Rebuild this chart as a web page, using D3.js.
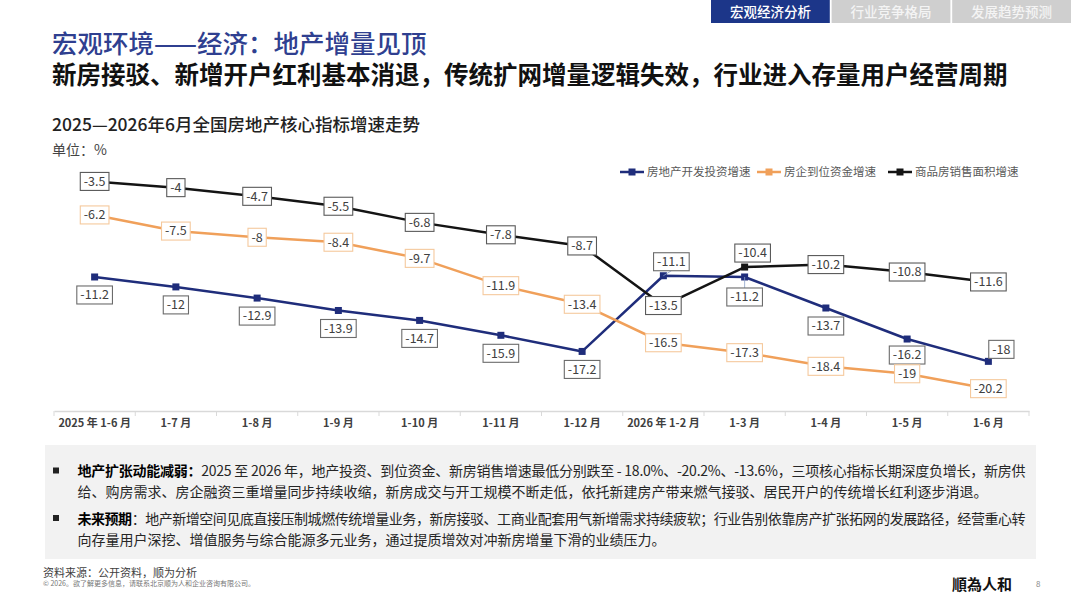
<!DOCTYPE html>
<html>
<head>
<meta charset="utf-8">
<script src="https://cdn.jsdelivr.net/npm/d3@7"></script>
<style>
  body {margin:0; background:#fff;}
  svg text {font-family:"Noto Sans CJK SC","Noto Sans",sans-serif;}
</style>
</head>
<body>
<div id="container"></div>
<script>
  /* DATA */
const categories = ["2025 年 1-6 月","1-7 月","1-8 月","1-9 月","1-10 月","1-11 月","1-12 月",
                    "2026 年 1-2 月","1-3 月","1-4 月","1-5 月","1-6 月"];
const investGrowth = [-11.2,-12,-12.9,-13.9,-14.7,-15.9,-17.2,-11.1,-11.2,-13.7,-16.2,-18];
const fundsGrowth  = [-6.2,-7.5,-8,-8.4,-9.7,-11.9,-13.4,-16.5,-17.3,-18.4,-19,-20.2];
const salesGrowth  = [-3.5,-4,-4.7,-5.5,-6.8,-7.8,-8.7,-13.5,-10.4,-10.2,-10.8,-11.6];
const seriesNames  = ["房地产开发投资增速","房企到位资金增速","商品房销售面积增速"];
const yDomain = [-22, 0];

// where each data label sits relative to its point
const investLabelPos = ["b","b","b","b","b","b","b","a","bl","b","bs","ar"];
const fundsLabelPos  = ["c","c","c","c","c","c","c","c","c","c","c","c"];
const salesLabelPos  = ["c","c","c","c","c","c","c","c","a","c","c","c"];

const tabs = ["宏观经济分析","行业竞争格局","发展趋势预测"];
const notes = [
  {bold:"地产扩张动能减弱：", text:"2025 至 2026 年，地产投资、到位资金、新房销售增速最低分别跌至 - 18.0%、-20.2%、-13.6%，三项核心指标长期深度负增长，新房供", full:true},
  {bold:"", text:"给、购房需求、房企融资三重增量同步持续收缩，新房成交与开工规模不断走低，依托新建房产带来燃气接驳、居民开户的传统增长红利逐步消退。", full:false},
  {bold:"未来预期", text:"：地产新增空间见底直接压制城燃传统增量业务，新房接驳、工商业配套用气新增需求持续疲软；行业告别依靠房产扩张拓网的发展路径，经营重心转", full:true},
  {bold:"", text:"向存量用户深挖、增值服务与综合能源多元业务，通过提质增效对冲新房增量下滑的业绩压力。", full:false}
];

  /* CONSTANTS */
const width = 1080, height = 608;
const plot = {left:54, right:1029, top:138, bottom:411};
const colors = ["#1f2d7b","#f0a05a","#141414"];
const boxStroke = ["#6b6b6b","#f5c99d","#5a5a5a"];
const labelOffset = {c:[0,0], b:[0,18], bs:[0,16], bl:[0,20], a:[8,-14], ar:[13,-12]};

const svg = d3.select("#container")
  .append("svg")
    .attr("width", width)
    .attr("height", height);

svg.append("rect").attr("width", width).attr("height", height).attr("fill", "#fff");

  /* TABS */
const tabX = d3.scaleBand().domain(tabs).range([711, 1071]).paddingInner(0.015);
svg.selectAll("rect.tab")
  .data(tabs)
  .join("rect")
    .attr("class","tab")
    .attr("x", d => tabX(d))
    .attr("y", 0)
    .attr("width", tabX.bandwidth())
    .attr("height", 23)
    .attr("fill", (d,i) => i === 0 ? "#1c3689" : "#cfcfcf");
svg.selectAll("text.tab")
  .data(tabs)
  .join("text")
    .attr("class","tab")
    .attr("x", d => tabX(d) + tabX.bandwidth()/2)
    .attr("y", 16.5)
    .attr("text-anchor","middle")
    .attr("font-size","13.5px")
    .attr("font-weight","500")
    .attr("fill", (d,i) => i === 0 ? "#fff" : "#f4f4f4")
    .text(d => d);

  /* TITLES */
svg.append("text")
  .attr("x", 52).attr("y", 53)
  .attr("font-size","25.5px")
  .attr("font-weight","500")
  .attr("fill","#2f3f90")
  .text("宏观环境——经济：地产增量见顶");
svg.append("text")
  .attr("x", 52).attr("y", 84)
  .attr("font-size","24.5px")
  .attr("font-weight","bold")
  .attr("fill","#111")
  .text("新房接驳、新增开户红利基本消退，传统扩网增量逻辑失效，行业进入存量用户经营周期");
svg.append("text")
  .attr("x", 52).attr("y", 131)
  .attr("font-size","17.5px")
  .attr("font-weight","500")
  .attr("fill","#222")
  .text("2025—2026年6月全国房地产核心指标增速走势");
svg.append("text")
  .attr("x", 52).attr("y", 155)
  .attr("font-size","14px")
  .attr("fill","#444")
  .text("单位：%");

  /* SCALES */
const xScale = d3.scaleBand()
  .domain(categories)
  .range([plot.left, plot.right]);
const yScale = d3.scaleLinear()
  .domain(yDomain)
  .range([plot.bottom, plot.top]);

  /* AXIS */
const xAxisGroup = svg.append("g")
  .attr("transform", `translate(0,${plot.bottom})`)
  .call(d3.axisBottom(xScale).tickSize(0).tickPadding(8));
xAxisGroup.select(".domain").attr("stroke","#d9d9d9").attr("stroke-width",1.3);
xAxisGroup.selectAll("text")
  .attr("font-family","\"Noto Sans CJK SC\",sans-serif")
  .attr("font-size","11px")
  .attr("font-weight","bold")
  .attr("fill","#404040");
svg.append("g").selectAll("line")
  .data(d3.range(categories.length + 1))
  .join("line")
    .attr("x1", i => plot.left + i * xScale.step())
    .attr("x2", i => plot.left + i * xScale.step())
    .attr("y1", plot.bottom)
    .attr("y2", plot.bottom + 5)
    .attr("stroke","#d9d9d9");

  /* SERIES */
const series = [
  {name:seriesNames[0], values:investGrowth, pos:investLabelPos},
  {name:seriesNames[1], values:fundsGrowth,  pos:fundsLabelPos},
  {name:seriesNames[2], values:salesGrowth,  pos:salesLabelPos}
];

const lineGen = d3.line()
  .x((d,i) => xScale(categories[i]) + xScale.bandwidth()/2)
  .y(d => yScale(d));

const seriesGroups = svg.selectAll("g.series")
  .data(series)
  .join("g")
    .attr("class","series");

seriesGroups.append("path")
  .attr("d", d => lineGen(d.values))
  .attr("fill","none")
  .attr("stroke", (d,i) => colors[i])
  .attr("stroke-width", 2.5)
  .attr("stroke-linejoin","round");

seriesGroups.each(function(s, si) {
  d3.select(this).selectAll("rect.marker")
    .data(s.values)
    .join("rect")
      .attr("class","marker")
      .attr("x", (d,i) => xScale(categories[i]) + xScale.bandwidth()/2 - 3.5)
      .attr("y", d => yScale(d) - 3.5)
      .attr("width", 7)
      .attr("height", 7)
      .attr("fill", colors[si]);
});

// data labels drawn above all lines
const labelLayer = svg.append("g");
series.forEach((s, si) => {
  s.values.forEach((v, i) => {
    const px = xScale(categories[i]) + xScale.bandwidth()/2;
    const py = yScale(v);
    const off = labelOffset[s.pos[i]];
    const cx = px + off[0], cy = py + off[1];
    const g = labelLayer.append("g");
    const t = g.append("text")
      .attr("x", cx)
      .attr("y", cy + 4.4)
      .attr("text-anchor","middle")
      .attr("font-family","\"Noto Sans\",sans-serif")
      .attr("font-size","12.5px")
      .attr("fill","#404040")
      .text(v);
    const w = t.node().getComputedTextLength() + 7;
    if (s.pos[i] === "a" && si === 0 || s.pos[i] === "bl") {
      g.insert("line","text")
        .attr("x1", px).attr("y1", py)
        .attr("x2", cx).attr("y2", cy + (off[1] < 0 ? 9 : -9))
        .attr("stroke","#8aa0c8")
        .attr("stroke-width",0.8);
    }
    g.insert("rect","text")
      .attr("x", cx - w/2)
      .attr("y", cy - 9)
      .attr("width", w)
      .attr("height", 18)
      .attr("fill","#fff")
      .attr("stroke", boxStroke[si])
      .attr("stroke-width", 1.1);
  });
});

  /* LEGEND */
const legendX = [620, 757, 888];
const legend = svg.selectAll("g.legend")
  .data(seriesNames)
  .join("g")
    .attr("class","legend")
    .attr("transform", (d,i) => `translate(${legendX[i]},172)`);
legend.append("line")
  .attr("x1",0).attr("x2",24)
  .attr("stroke", (d,i) => colors[i])
  .attr("stroke-width",2.5);
legend.append("rect")
  .attr("x",8.5).attr("y",-3.5)
  .attr("width",7).attr("height",7)
  .attr("fill", (d,i) => colors[i]);
legend.append("text")
  .attr("x",27).attr("y",4.3)
  .attr("font-size","11.5px")
  .attr("fill","#595959")
  .text(d => d);

  /* NOTES BOX */
svg.append("rect")
  .attr("x",45).attr("y",445)
  .attr("width",991).attr("height",114)
  .attr("fill","#f2f2f2");
const noteY = [471, 492, 518.5, 540];
notes.forEach((n, i) => {
  if (n.bold) {
    svg.append("rect")
      .attr("x",53).attr("y",noteY[i] - 3.5)
      .attr("width",6).attr("height",6)
      .attr("fill","#222");
  }
  const t = svg.append("text")
    .attr("x", 77.5)
    .attr("y", noteY[i] + 5)
    .attr("font-size","14px")
    .attr("fill","#262626");
  if (n.full) t.attr("textLength", 948).attr("lengthAdjust","spacing");
  if (n.bold) t.append("tspan").attr("font-weight","bold").attr("fill","#000").text(n.bold);
  t.append("tspan").text(n.text);
});

  /* FOOTER */
svg.append("text")
  .attr("x",43).attr("y",577)
  .attr("font-size","11px")
  .attr("fill","#404040")
  .text("资料来源：公开资料，顺为分析");
svg.append("text")
  .attr("x",43).attr("y",586)
  .attr("font-size","7px")
  .attr("fill","#777")
  .text("© 2026。欲了解更多信息，请联系北京顺为人和企业咨询有限公司。");
svg.append("text")
  .attr("x",952).attr("y",590)
  .attr("font-family","\"Noto Sans CJK TC\",sans-serif")
  .attr("font-size","15px")
  .attr("font-weight","bold")
  .attr("fill","#111")
  .text("順為人和");
svg.append("text")
  .attr("x",1036).attr("y",587)
  .attr("font-size","8px")
  .attr("fill","#888")
  .text("8");
</script>
</body>
</html>
